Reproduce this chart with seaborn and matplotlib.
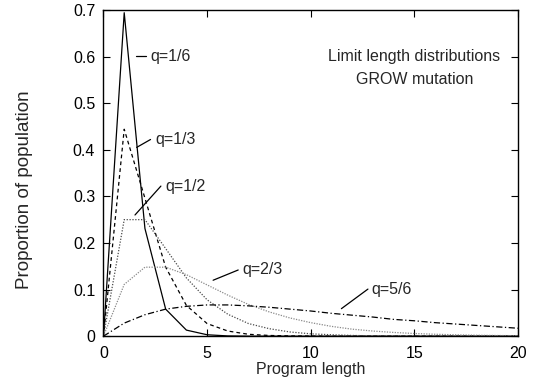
import matplotlib
matplotlib.use("Agg")
import matplotlib.pyplot as plt
from matplotlib.ticker import FormatStrFormatter
import pandas as pd
import seaborn as sns

# program lengths 0..20
lengths = list(range(21))

q16 = [0, 0.694, 0.231, 0.058, 0.013, 0.003, 0.0005, 0, 0, 0, 0,
       0, 0, 0, 0, 0, 0, 0, 0, 0, 0]
q13 = [0, 0.444, 0.296, 0.148, 0.066, 0.027, 0.011, 0.004, 0.0015, 0.0005, 0.0002,
       0, 0, 0, 0, 0, 0, 0, 0, 0, 0]
q12 = [0, 0.25, 0.25, 0.188, 0.125, 0.078, 0.047, 0.027, 0.016, 0.009, 0.005,
       0.003, 0.0015, 0.0008, 0.0004, 0.0002, 0.0001, 0, 0, 0, 0]
q23 = [0, 0.111, 0.148, 0.148, 0.132, 0.110, 0.088, 0.068, 0.052, 0.039, 0.029,
       0.021, 0.015, 0.011, 0.008, 0.0057, 0.0041, 0.0029, 0.002, 0.0014, 0.001]
q56 = [0, 0.028, 0.046, 0.058, 0.064, 0.067, 0.067, 0.065, 0.062, 0.058, 0.054,
       0.049, 0.045, 0.041, 0.036, 0.033, 0.029, 0.026, 0.023, 0.020, 0.017]

labels = ["q=1/6", "q=1/3", "q=1/2", "q=2/3", "q=5/6"]

df = pd.DataFrame({"length": lengths, "q=1/6": q16, "q=1/3": q13,
                   "q=1/2": q12, "q=2/3": q23, "q=5/6": q56})

sns.set_style("ticks")
plt.rcParams["font.family"] = ["Liberation Sans", "DejaVu Sans"]
FS = 11.5

fig = plt.figure(figsize=(5.39, 3.82), dpi=100)
ax = fig.add_axes([0.192, 0.120, 0.769, 0.854])

styles = {
    "q=1/6": dict(color="black", linestyle="-"),
    "q=1/3": dict(color="black", linestyle=(0, (3, 2.5))),
    "q=1/2": dict(color="#4a4a4a", linestyle=(0, (1, 1.3))),
    "q=2/3": dict(color="#8a8a8a", linestyle=(0, (1, 1.1))),
    "q=5/6": dict(color="black", linestyle=(0, (5, 2, 1, 2))),
}
for lab in labels:
    sns.lineplot(data=df, x="length", y=lab, ax=ax, linewidth=0.9, **styles[lab])

# curve labels with short leader lines
leaders = {
    "q=1/6": ((1.57, 0.601), (2.03, 0.601), (2.27, 0.601)),
    "q=1/3": ((1.6, 0.405), (2.27, 0.422), (2.5, 0.422)),
    "q=1/2": ((1.52, 0.26), (2.77, 0.322), (3.0, 0.322)),
    "q=2/3": ((5.29, 0.12), (6.5, 0.142), (6.72, 0.142)),
    "q=5/6": ((11.48, 0.059), (12.76, 0.101), (12.95, 0.101)),
}
for lab, (p0, p1, t) in leaders.items():
    ax.plot([p0[0], p1[0]], [p0[1], p1[1]], color="black", linewidth=0.9)
    ax.text(t[0], t[1], lab, ha="left", va="center", fontsize=FS)

ax.text(15.0, 0.6, "Limit length distributions", ha="center", va="center", fontsize=FS)
ax.text(15.0, 0.551, "GROW mutation", ha="center", va="center", fontsize=FS)

ax.set_xlim(0, 20)
ax.set_ylim(0, 0.7)
ax.set_xticks([0, 5, 10, 15, 20])
ax.set_yticks([0, 0.1, 0.2, 0.3, 0.4, 0.5, 0.6, 0.7])
ax.yaxis.set_major_formatter(FormatStrFormatter("%g"))
ax.tick_params(direction="in", length=5, width=0.8, top=True, right=True,
               labelsize=FS, pad=6, colors="black")
ax.tick_params(axis="x", pad=7)
for sp in ax.spines.values():
    sp.set_visible(True)
    sp.set_linewidth(1.0)
    sp.set_color("black")

ax.set_xlabel("Program length", fontsize=FS, labelpad=1)
ax.set_ylabel("Proportion of population", fontsize=13.5)
ax.yaxis.set_label_coords(-0.171, 0.45)

fig.savefig("out.png", dpi=100)
